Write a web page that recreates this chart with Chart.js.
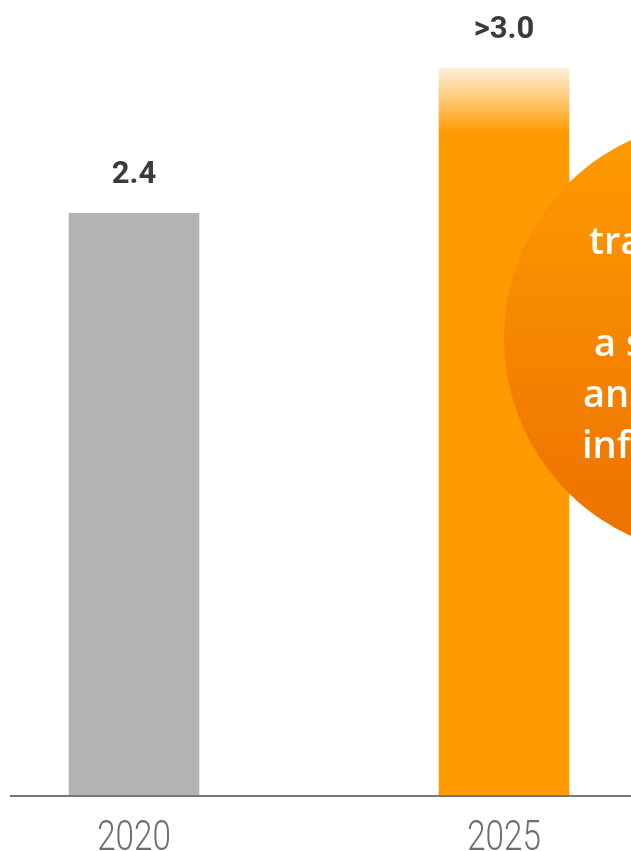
<!DOCTYPE html>
<html>
<head>
<meta charset="utf-8">
<title>2020 vs 2025</title>
<script src="https://cdn.jsdelivr.net/npm/chart.js"></script>
<style>
  html, body { margin: 0; padding: 0; background: #ffffff; }
  #wrap { width: 631px; height: 851px; position: relative; }
</style>
</head>
<body>
<div id="wrap"><canvas id="chart"></canvas></div>
<script>
// chart data
const categories = ["2020", "2025"];
const values = [2.4, 3.0];
const valueLabels = ["2.4", ">3.0"];
// text inside the orange circle (cut off at the right edge)
const calloutLines = ["transformation", "", "a shift", "and", "infrastructure"];

const GRAY = "#b3b3b3";
const ORANGE = "#ff9a00";

// orange bar fades to pale at the top
function barColor(context) {
  if (context.dataIndex === 0) return GRAY;
  const chart = context.chart;
  const y = chart.scales.y;
  if (!chart.chartArea || !y) return ORANGE;
  const top = y.getPixelForValue(values[1]);
  const g = chart.ctx.createLinearGradient(0, top, 0, top + 66);
  g.addColorStop(0, "#fff0dc");
  g.addColorStop(1, ORANGE);
  return g;
}

// draws the callout circle, value labels, base line and category labels
const overlayPlugin = {
  id: "overlay",
  afterDatasetsDraw(chart) {
    const { ctx, chartArea } = chart;
    const meta = chart.getDatasetMeta(0);
    const xScale = chart.scales.x;
    ctx.save();

    // callout circle
    const cx = 722, cy = 338, r = 218;
    const cg = ctx.createLinearGradient(0, cy - r, 0, cy + r);
    cg.addColorStop(0, "#ff9c00");
    cg.addColorStop(1, "#ec7000");
    ctx.fillStyle = cg;
    ctx.beginPath();
    ctx.arc(cx, cy, r, 0, Math.PI * 2);
    ctx.fill();

    ctx.fillStyle = "#ffffff";
    ctx.font = "600 38px 'Open Sans', 'Noto Sans', sans-serif";
    ctx.textAlign = "left";
    ctx.textBaseline = "alphabetic";
    const lineX = [589, 0, 594, 583, 582];
    calloutLines.forEach((line, i) => {
      if (line) ctx.fillText(line, lineX[i], 254 + i * 51);
    });

    // value labels above bars
    ctx.fillStyle = "#3b3b3b";
    ctx.font = "bold 31px Roboto, 'DejaVu Sans', sans-serif";
    ctx.textAlign = "center";
    meta.data.forEach((bar, i) => {
      ctx.fillText(valueLabels[i], bar.x, bar.y - 30);
    });

    // base line
    ctx.strokeStyle = "#777777";
    ctx.lineWidth = 2;
    ctx.beginPath();
    ctx.moveTo(10, chartArea.bottom + 1);
    ctx.lineTo(chart.width, chartArea.bottom + 1);
    ctx.stroke();

    // category labels, light and narrow
    ctx.fillStyle = "#6e6e6e";
    ctx.font = "300 42px Roboto, 'DejaVu Sans', sans-serif";
    categories.forEach((label, i) => {
      const x = xScale.getPixelForValue(i);
      ctx.save();
      ctx.translate(x, chartArea.bottom + 55);
      ctx.scale(0.79, 1);
      ctx.fillText(label, 0, 0);
      ctx.restore();
    });

    ctx.restore();
  }
};

new Chart(document.getElementById("chart"), {
  type: "bar",
  data: {
    labels: categories,
    datasets: [{
      data: values,
      backgroundColor: barColor,
      borderWidth: 0,
      barThickness: 130,
      clip: false
    }]
  },
  options: {
    responsive: true,
    maintainAspectRatio: false,
    animation: false,
    layout: { padding: { left: 134, right: 127, top: 0, bottom: 56 } },
    plugins: {
      legend: { display: false },
      tooltip: { enabled: false }
    },
    scales: {
      x: {
        offset: false,
        grid: { display: false, drawTicks: false },
        border: { display: false },
        ticks: { display: false }
      },
      y: {
        display: false,
        min: 0,
        max: 3.28
      }
    }
  },
  plugins: [overlayPlugin]
});
</script>
</body>
</html>
